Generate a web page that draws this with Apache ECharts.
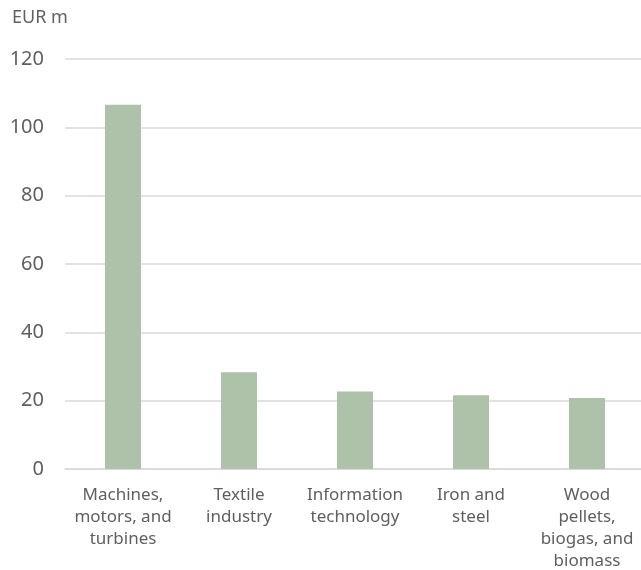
<!DOCTYPE html>
<html><head><meta charset="utf-8">
<script src="https://cdn.jsdelivr.net/npm/echarts@6/dist/echarts.min.js"></script>
<style>html,body{margin:0;padding:0;background:#fff}#c{width:641px;height:570px}</style>
</head><body><div id="c"></div>
<script>
const categories = ["Machines,\nmotors, and\nturbines", "Textile\nindustry", "Information\ntechnology", "Iron and\nsteel", "Wood\npellets,\nbiogas, and\nbiomass"];
const values = [106.6, 28.3, 22.7, 21.6, 20.8];
const unitLabel = "EUR m";
const font = "'Noto Sans', sans-serif";
const chart = echarts.init(document.getElementById('c'), null, {renderer: 'canvas'});
chart.setOption({
  animation: false,
  graphic: [{type: 'text', left: 12, top: 9, style: {text: unitLabel, font: "18px " + font, fill: '#5f5f5f'}}],
  grid: {left: 65, top: 59, width: 580, height: 410, containLabel: false, outerBoundsMode: 'none'},
  xAxis: {
    type: 'category', data: categories,
    axisLine: {lineStyle: {color: '#d9d9d9', width: 1.5}},
    axisTick: {show: false},
    axisLabel: {color: '#5f5f5f', fontFamily: font, fontSize: 17, lineHeight: 22, margin: 15, interval: 0}
  },
  yAxis: {
    type: 'value', min: 0, max: 120, interval: 20,
    axisLine: {show: false}, axisTick: {show: false},
    axisLabel: {color: '#5f5f5f', fontFamily: font, fontSize: 20, margin: 21},
    splitLine: {lineStyle: {color: '#d9d9d9', width: 1.5}}
  },
  series: [{type: 'bar', data: values, barWidth: 36, itemStyle: {color: '#adc2a9'}}]
});
</script></body></html>
